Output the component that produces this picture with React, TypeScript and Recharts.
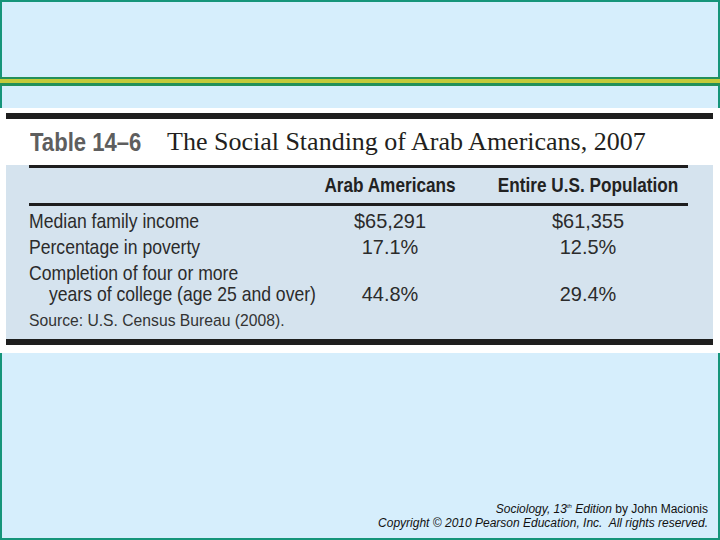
import React from 'react';
import { ScatterChart, Scatter, XAxis, YAxis } from 'recharts';

const tableLabel = 'Table 14–6';
const tableTitle = 'The Social Standing of Arab Americans, 2007';
const columns = ['Arab Americans', 'Entire U.S. Population'];
const metrics = [
  'Median family income',
  'Percentage in poverty',
  'Completion of four or more|years of college (age 25 and over)',
];
const arabValues = ['$65,291', '17.1%', '44.8%'];
const usValues = ['$61,355', '12.5%', '29.4%'];
const sourceNote = 'Source: U.S. Census Bureau (2008).';

const arabData = metrics.map((m, i) => ({ column: columns[0], metric: m, value: arabValues[i] }));
const usData = metrics.map((m, i) => ({ column: columns[1], metric: m, value: usValues[i] }));

const SANS = "'Liberation Sans', Arial, Helvetica, sans-serif";
const TEXT = '#2b2b2b';
const LINE = 21;

const YTick = (props: any) => {
  const { y, payload } = props;
  const lines = String(payload.value).split('|');
  return (
    <g>
      {lines.map((l, i) => (
        <text
          key={i}
          transform={`translate(${29 + (i > 0 ? 20 : 0)},${y + 7 + i * LINE}) scale(0.88,1)`}
          x={0}
          y={0}
          fontFamily={SANS}
          fontSize={20}
          fill={TEXT}
          textAnchor="start"
        >
          {l}
        </text>
      ))}
    </g>
  );
};

const XTick = (props: any) => {
  const { x, y, payload } = props;
  return (
    <text
      transform={`translate(${x},${y - 16}) scale(0.86,1)`}
      x={0}
      y={0}
      fontFamily={SANS}
      fontSize={20}
      fontWeight="bold"
      fill="#222"
      textAnchor="middle"
    >
      {payload.value}
    </text>
  );
};

const ValueShape = (props: any) => {
  const { cx, cy, payload } = props;
  const n = String(payload.metric).split('|').length;
  return (
    <text
      transform={`translate(${cx},${cy + 7 + (n - 1) * LINE}) scale(0.95,1)`}
      x={0}
      y={0}
      fontFamily={SANS}
      fontSize={21}
      fill={TEXT}
      textAnchor="middle"
    >
      {payload.value}
    </text>
  );
};

const abs = (l: number, t: number, w: number, h: number, bg: string): React.CSSProperties => ({
  position: 'absolute', left: l, top: t, width: w, height: h, background: bg,
});

export default function App() {
  return (
    <div style={{ position: 'absolute', left: 0, top: 0, width: 720, height: 540, background: '#D6EEFC', overflow: 'hidden' }}>
      <div style={{ position: 'absolute', left: 0, top: 0, width: 720, height: 540, boxSizing: 'border-box', border: '2px solid #16957A' }} />
      <div style={abs(0, 77, 720, 2, '#23905A')} />
      <div style={abs(0, 79, 720, 4, '#C4CA3A')} />
      <div style={abs(0, 83, 720, 3, '#23905A')} />
      <div style={abs(0, 108, 720, 245, '#FFFFFF')} />
      <div style={abs(6, 113, 707, 6, '#1E1E1E')} />
      <div style={abs(6, 165, 707, 175, '#D5E3EE')} />
      <div style={abs(29, 165, 659, 3, '#1E1E1E')} />
      <div style={abs(29, 203, 659, 3, '#1E1E1E')} />
      <div style={abs(6, 339, 707, 6, '#1E1E1E')} />
      <div style={{ position: 'absolute', left: 30, top: 126, whiteSpace: 'nowrap', fontFamily: SANS, fontWeight: 'bold', fontSize: 26, color: '#5E5E5E', lineHeight: '32px', transform: 'scaleX(0.85)', transformOrigin: '0 0' }}>
        {tableLabel}
      </div>
      <div style={{ position: 'absolute', left: 167, top: 126, whiteSpace: 'nowrap', fontFamily: "'Liberation Serif', 'DejaVu Serif', serif", fontSize: 26, color: '#231F20', lineHeight: '32px' }}>
        {tableTitle}
      </div>
      <div style={{ position: 'absolute', left: 29, top: 311, whiteSpace: 'nowrap', fontFamily: SANS, fontSize: 15.7, color: '#333', lineHeight: '20px' }}>
        {sourceNote}
      </div>
      <div style={{ position: 'absolute', right: 12, top: 499, textAlign: 'right', whiteSpace: 'nowrap', fontFamily: SANS, fontSize: 12, color: '#111', lineHeight: '14px' }}>
        <div><i>Sociology, 13<sup style={{ fontSize: 6 }}>th</sup> Edition</i> by John Macionis</div>
        <div><i>Copyright © 2010 Pearson Education, Inc.&nbsp; All rights reserved.</i></div>
      </div>
      <div style={{ position: 'absolute', left: 0, top: 0 }}>
        <ScatterChart width={720} height={540} margin={{ top: 178, left: 31, right: 33, bottom: 254 }}>
          <XAxis
            dataKey="column"
            type="category"
            orientation="top"
            allowDuplicatedCategory={false}
            height={30}
            axisLine={false}
            tickLine={false}
            tickSize={0}
            tickMargin={0}
            tick={<XTick />}
          />
          <YAxis
            dataKey="metric"
            type="category"
            reversed
            allowDuplicatedCategory={false}
            width={260}
            axisLine={false}
            tickLine={false}
            tickSize={0}
            tick={<YTick />}
          />
          <Scatter data={arabData} isAnimationActive={false} shape={<ValueShape />} />
          <Scatter data={usData} isAnimationActive={false} shape={<ValueShape />} />
        </ScatterChart>
      </div>
    </div>
  );
}
